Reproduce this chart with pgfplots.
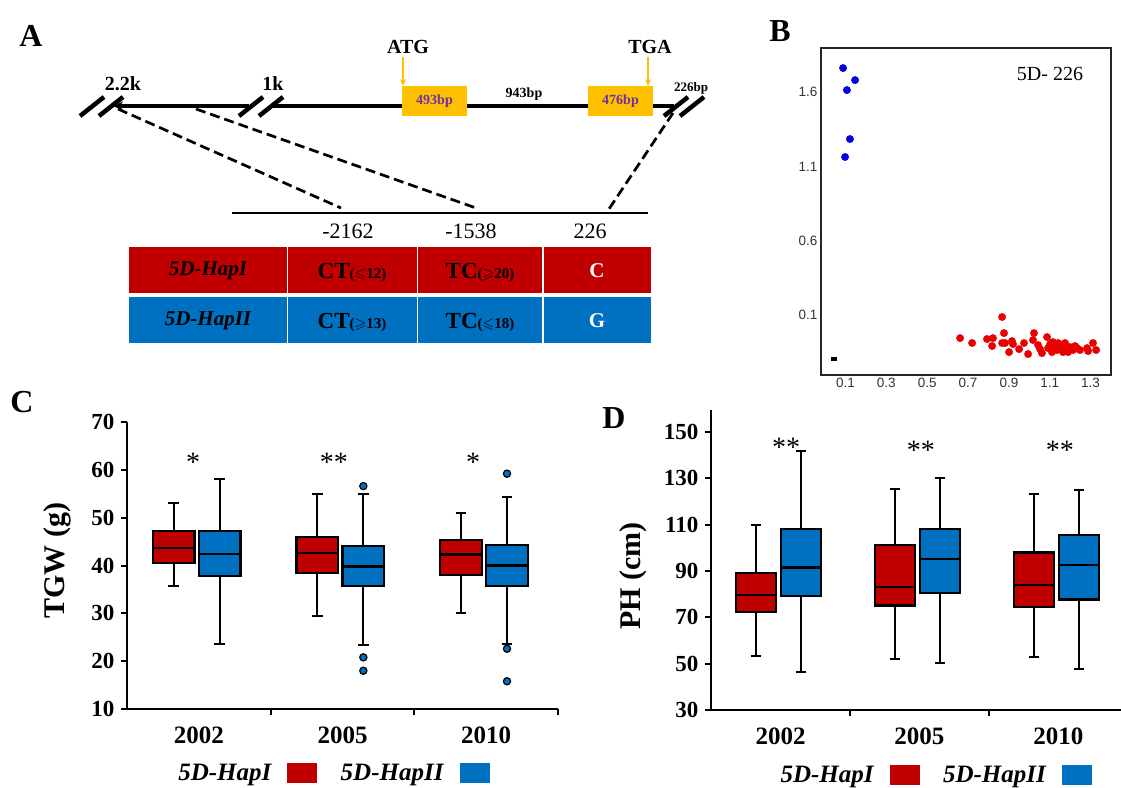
\documentclass[border=0pt]{standalone}
\usepackage{amssymb}
\usepackage{fontspec}
\setmainfont{Liberation Serif}
\newfontfamily\arial{Liberation Sans}
\usepackage{pgfplots}
\pgfplotsset{compat=1.18}
\usepgfplotslibrary{statistics}
\usetikzlibrary{arrows.meta}
\newcommand\fs[1]{\fontsize{#1}{#1}\selectfont}
\definecolor{redC}{RGB}{192,0,0}
\definecolor{blueC}{RGB}{0,112,192}
\definecolor{yel}{RGB}{255,192,0}
\definecolor{purp}{RGB}{112,48,160}
\definecolor{dotred}{RGB}{235,0,0}
\definecolor{dotblue}{RGB}{0,0,225}

\pgfplotsset{
  hapbox/.style={
    scale only axis, xmin=0.5,
    axis x line*=bottom, axis y line*=left,
    axis line style={line width=2.4pt, black},
    xtick={1.5,2.5,3.5}, xticklabels={,,},
    extra x ticks={1,2,3}, extra x tick labels={2002,2005,2010},
    extra x tick style={major tick length=0pt},
    tick align=outside, major tick length=6pt,
    tick style={line width=2pt, black},
    /pgf/number format/assume math mode=true,
    yticklabel style={font=\fs{23}\bfseries, xshift=-3pt},
    xticklabel style={font=\fs{25}\bfseries, yshift=-14pt},
    ylabel style={font=\fs{30}\bfseries},
    boxplot/draw direction=y,
    legend plot pos=right,
    legend style={draw=none, fill=none, font=\fs{25}\bfseries\itshape,
      legend columns=2, anchor=center,
      /tikz/every even column/.append style={column sep=22pt}},
    clip=false,
  },
  redbox/.style={draw=black, fill=redC, line width=2.1pt},
  bluebox/.style={draw=black, fill=blueC, line width=2.1pt, mark=*, mark size=3.6pt,
    mark options={fill=blueC, draw=black, line width=1.2pt}},
  redleg/.style={legend image code/.code={\path (0pt,0pt); \fill[redC] (14pt,-9.5pt) rectangle (43pt,9.5pt);}},
  blueleg/.style={legend image code/.code={\path (0pt,0pt); \fill[blueC] (14pt,-9.5pt) rectangle (43pt,9.5pt);}},
}

\begin{document}
\begin{tikzpicture}
\useasboundingbox (0pt,0pt) rectangle (1121pt,-787pt);
\clip (0pt,0pt) rectangle (1121pt,-787pt);

\begin{scope}[x=1pt,y=-1pt]
  % panel letters
  \node[font=\fs{32}\bfseries] at (31,36) {A};
  \node[font=\fs{32}\bfseries] at (780,31) {B};
  \node[font=\fs{32}\bfseries] at (22,402) {C};
  \node[font=\fs{32}\bfseries] at (614,418) {D};

  % gene structure
  \draw[line width=4pt, {Stealth[length=10pt,width=9pt]}-] (113,106) -- (249,106);
  \draw[line width=4pt] (273,106) -- (674,106);
  \foreach \c in {92,111,251,271,676,692}
    \draw[line width=4.5pt] (\c-12,116) -- (\c+12,97);
  \fill[yel] (402,86) rectangle (467,116);
  \fill[yel] (588,86) rectangle (653,116);
  \node[font=\fs{14}\bfseries, text=purp] at (434.5,101) {493bp};
  \node[font=\fs{14}\bfseries, text=purp] at (620.5,101) {476bp};
  \draw[yel, line width=1.6pt, -{Stealth[length=7pt,width=6pt]}] (403,57) -- (403,86);
  \draw[yel, line width=1.6pt, -{Stealth[length=7pt,width=6pt]}] (648,57) -- (648,86);
  \node[font=\fs{20}\bfseries] at (408,47) {ATG};
  \node[font=\fs{20}\bfseries] at (650,47) {TGA};
  \node[font=\fs{20}\bfseries] at (123,84) {2.2k};
  \node[font=\fs{20}\bfseries] at (273,84) {1k};
  \node[font=\fs{14}\bfseries] at (524,94) {943bp};
  \node[font=\fs{13}\bfseries] at (691,88) {226bp};

  \draw[line width=2.7pt, dash pattern=on 10pt off 5pt] (118,109) -- (341,208);
  \draw[line width=2.7pt, dash pattern=on 10pt off 5pt] (196,109) -- (476,208);
  \draw[line width=2.7pt, dash pattern=on 10pt off 5pt] (673,113) -- (607,212);
  \draw[line width=1.5pt] (232,213) -- (648,213);
  \node[font=\fs{22}] at (348,231) {-2162};
  \node[font=\fs{22}] at (471,231) {-1538};
  \node[font=\fs{22}] at (590,231) {226};

  % table
  \fill[redC] (129,247) rectangle (651,293);
  \fill[blueC] (129,297) rectangle (651,343);
  \foreach \x in {287.5,417.5,543}
    \draw[white, line width=1.5pt] (\x,247) -- (\x,343);
  \node[font=\fs{21}\bfseries\itshape] at (208,271) {5D-HapI};
  \node[font=\fs{21}\bfseries\itshape] at (208,321) {5D-HapII};
  \node at (352,272) {{\fs{23}\bfseries CT}{\fs{15}\bfseries(\ensuremath{\leqslant}12)}};
  \node at (480,272) {{\fs{23}\bfseries TC}{\fs{15}\bfseries(\ensuremath{\geqslant}20)}};
  \node at (352,322) {{\fs{23}\bfseries CT}{\fs{15}\bfseries(\ensuremath{\geqslant}13)}};
  \node at (480,322) {{\fs{23}\bfseries TC}{\fs{15}\bfseries(\ensuremath{\leqslant}18)}};
  \node[font=\fs{21}\bfseries, text=white] at (597,271) {C};
  \node[font=\fs{21}\bfseries, text=white] at (597,321) {G};

  \node[font=\fs{20}] at (1050,74) {5D- 226};
\end{scope}

% ---------------- Panel B ----------------
\begin{axis}[at={(821pt,-375pt)}, anchor=south west, scale only axis,
  width=290pt, height=327pt,
  xmin=-0.0199, xmax=1.400, ymin=-0.303, ymax=1.896,
  axis line style={line width=2.2pt, black!85},
  xtick={0.1,0.3,0.5,0.7,0.9,1.1,1.3}, ytick={0.1,0.6,1.1,1.6},
  major tick length=0pt,
  ticklabel style={font=\arial\fs{13.5}, text=black!80},
  /pgf/number format/assume math mode=true,
  /pgf/number format/fixed, /pgf/number format/precision=1,
  clip=false]
\addplot[only marks, mark=*, mark size=3.7pt, color=dotblue] coordinates {
  (0.088,1.761) (0.147,1.680) (0.107,1.613) (0.122,1.284) (0.098,1.163)};
\addplot[only marks, mark=square*, mark size=2.6pt, color=black, mark options={yscale=0.6}] coordinates {
  (0.044,-0.196)};
\addplot[only marks, mark=*, mark size=3.7pt, color=dotred] coordinates {
  (0.661,-0.055) (0.720,-0.088) (0.867,0.087) (0.793,-0.061) (0.822,-0.055)
  (0.818,-0.108) (0.876,-0.021) (0.867,-0.088) (0.881,-0.088) (0.915,-0.075)
  (0.920,-0.095) (0.901,-0.149) (0.950,-0.129) (0.974,-0.088) (0.994,-0.162)
  (1.023,-0.021) (1.018,-0.068) (1.043,-0.102) (1.053,-0.129) (1.062,-0.156)
  (1.087,-0.048) (1.102,-0.095) (1.116,-0.082) (1.126,-0.115) (1.136,-0.135)
  (1.111,-0.149) (1.151,-0.102) (1.175,-0.088) (1.185,-0.122) (1.165,-0.149)
  (1.200,-0.115) (1.214,-0.135) (1.234,-0.122) (1.248,-0.135) (1.283,-0.122)
  (1.288,-0.142) (1.312,-0.088) (1.327,-0.135) (1.141,-0.088) (1.160,-0.129)
  (1.092,-0.122) (1.190,-0.149) (1.224,-0.108)};
\end{axis}

% ---------------- Panel C ----------------
\begin{axis}[hapbox, at={(127pt,-709pt)}, anchor=south west,
  width=431pt, height=287pt, xmax=3.5, ymin=10, ymax=70,
  ytick={10,20,...,70},
  ylabel={TGW (g)},
  ylabel style={at={(axis description cs:-0.162,0.516)}, anchor=center},
  legend style={at={(0.477,-0.223)}}]
\addlegendimage{redleg}
\addlegendentry{5D-HapI}
\addlegendimage{blueleg}
\addlegendentry{5D-HapII}
% 2002
\addplot[redbox, boxplot prepared={draw position=0.825, box extend=0.29, whisker extend=0.075,
  lower whisker=35.7, lower quartile=40.6, median=43.7, upper quartile=47.3, upper whisker=53.0}] coordinates {};
\addplot[bluebox, boxplot prepared={draw position=1.145, box extend=0.29, whisker extend=0.075,
  lower whisker=23.5, lower quartile=37.8, median=42.5, upper quartile=47.3, upper whisker=58.1}] coordinates {};
% 2005
\addplot[redbox, boxplot prepared={draw position=1.825, box extend=0.29, whisker extend=0.075,
  lower whisker=29.4, lower quartile=38.5, median=42.7, upper quartile=45.9, upper whisker=55.0}] coordinates {};
\addplot[bluebox, boxplot prepared={draw position=2.145, box extend=0.29, whisker extend=0.075,
  lower whisker=23.3, lower quartile=35.7, median=39.8, upper quartile=44.1, upper whisker=54.9}]
  table[row sep=\\, y index=0] {data\\ 56.6\\ 20.8\\ 18.0\\};
% 2010
\addplot[redbox, boxplot prepared={draw position=2.825, box extend=0.29, whisker extend=0.075,
  lower whisker=30.0, lower quartile=38.1, median=42.3, upper quartile=45.3, upper whisker=51.0}] coordinates {};
\addplot[bluebox, boxplot prepared={draw position=3.145, box extend=0.29, whisker extend=0.075,
  lower whisker=23.6, lower quartile=35.7, median=40.0, upper quartile=44.2, upper whisker=54.4}]
  table[row sep=\\, y index=0] {data\\ 59.2\\ 22.6\\ 15.8\\};
\node[font=\fs{28}, anchor=base] at (axis cs:0.96,59.6) {*};
\node[font=\fs{28}, anchor=base] at (axis cs:1.94,59.6) {**};
\node[font=\fs{28}, anchor=base] at (axis cs:2.91,59.6) {*};
\end{axis}

% ---------------- Panel D ----------------
\begin{axis}[hapbox, at={(711pt,-710pt)}, anchor=south west,
  width=410pt, height=300pt, xmax=3.45, ymin=30, ymax=159.5,
  ytick={30,50,...,150},
  ylabel={PH (cm)},
  ylabel style={at={(axis description cs:-0.190,0.447)}, anchor=center},
  legend style={at={(0.546,-0.216)}}]
\addlegendimage{redleg}
\addlegendentry{5D-HapI}
\addlegendimage{blueleg}
\addlegendentry{5D-HapII}
% 2002
\addplot[redbox, boxplot prepared={draw position=0.825, box extend=0.29, whisker extend=0.075,
  lower whisker=53.5, lower quartile=72.2, median=79.7, upper quartile=89.1, upper whisker=109.8}] coordinates {};
\addplot[bluebox, boxplot prepared={draw position=1.148, box extend=0.29, whisker extend=0.075,
  lower whisker=46.4, lower quartile=79.1, median=91.5, upper quartile=108.1, upper whisker=141.9}] coordinates {};
% 2005
\addplot[redbox, boxplot prepared={draw position=1.825, box extend=0.29, whisker extend=0.075,
  lower whisker=52.2, lower quartile=75.1, median=83.1, upper quartile=101.2, upper whisker=125.4}] coordinates {};
\addplot[bluebox, boxplot prepared={draw position=2.148, box extend=0.29, whisker extend=0.075,
  lower whisker=50.3, lower quartile=80.4, median=95.0, upper quartile=108.1, upper whisker=130.0}] coordinates {};
% 2010
\addplot[redbox, boxplot prepared={draw position=2.825, box extend=0.29, whisker extend=0.075,
  lower whisker=52.7, lower quartile=74.4, median=84.0, upper quartile=98.0, upper whisker=123.1}] coordinates {};
\addplot[bluebox, boxplot prepared={draw position=3.148, box extend=0.29, whisker extend=0.075,
  lower whisker=47.8, lower quartile=77.7, median=92.5, upper quartile=105.5, upper whisker=124.8}] coordinates {};
\node[font=\fs{28}, anchor=base] at (axis cs:1.04,139.6) {**};
\node[font=\fs{28}, anchor=base] at (axis cs:2.01,138.3) {**};
\node[font=\fs{28}, anchor=base] at (axis cs:3.01,138.3) {**};
\end{axis}
\end{tikzpicture}
\end{document}
